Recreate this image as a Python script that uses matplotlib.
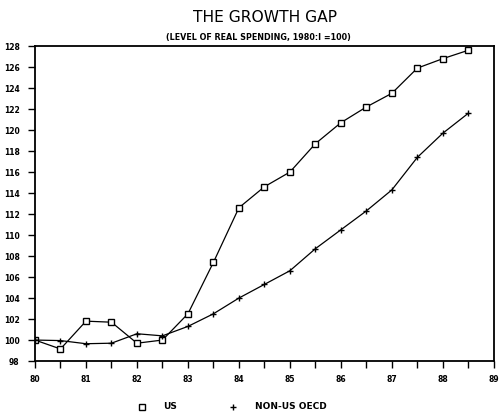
import matplotlib
matplotlib.use('Agg')
import matplotlib.pyplot as plt
import numpy as np

# half-year points, 1980:1 = 100
years = [80, 80.5, 81, 81.5, 82, 82.5, 83, 83.5, 84, 84.5,
         85, 85.5, 86, 86.5, 87, 87.5, 88, 88.5]
us = [100.0, 99.15, 101.8, 101.7, 99.7, 100.0, 102.5, 107.4, 112.6, 114.6,
      116.0, 118.7, 120.7, 122.2, 123.5, 125.9, 126.8, 127.6]
non_us = [100.0, 99.95, 99.65, 99.7, 100.6, 100.4, 101.3, 102.5, 104.0, 105.3,
          106.6, 108.7, 110.5, 112.3, 114.3, 117.4, 119.7, 121.6]
xlabels = ['80', '81', '82', '83', '84', '85', '86', '87', '88', '89']
ylabels = list(range(98, 129, 2))

fig = plt.figure(figsize=(5.02, 4.15), dpi=100)
ax = fig.add_axes([0.0697, 0.130, 0.914, 0.759])

ax.plot(years, us, color='black', lw=0.9, marker='s', ms=4.3,
        mfc='white', mec='black', mew=1.0)
ax.plot(years, non_us, color='black', lw=0.9, marker='+', ms=5, mew=1.0)

ax.set_xlim(80, 89)
ax.set_ylim(98, 128)
# ticks every half year, labels on whole years only
ax.set_xticks(np.arange(80, 89.01, 0.5))
ax.set_xticklabels([l for x in xlabels for l in (x, '')][:19])
ax.set_yticks(ylabels)
ax.set_yticklabels([str(v) for v in ylabels])
ax.tick_params(direction='out', length=5, width=1.0, labelsize=5.5)
ax.tick_params(axis='x', pad=5)
ax.tick_params(axis='y', pad=6)
for lab in ax.get_xticklabels() + ax.get_yticklabels():
    lab.set_fontweight('bold')
for s in ax.spines.values():
    s.set_linewidth(1.3)

fig.text(0.528, 0.957, 'THE GROWTH GAP', ha='center', va='center',
         fontsize=11.2, color='black')
fig.text(0.515, 0.910, '(LEVEL OF REAL SPENDING, 1980:I =100)',
         ha='center', va='center', fontsize=5.8, fontweight='bold')

# legend row under the chart
fig.lines.append(plt.Line2D([0.283], [0.020], transform=fig.transFigure,
                            marker='s', ms=4.3, mfc='white', mec='black',
                            mew=1.0, ls=''))
fig.text(0.325, 0.020, 'US', ha='left', va='center', fontsize=6.5,
         fontweight='bold')
fig.lines.append(plt.Line2D([0.465], [0.020], transform=fig.transFigure,
                            marker='+', ms=5, mec='black', mew=1.0, ls=''))
fig.text(0.507, 0.020, 'NON-US OECD', ha='left', va='center', fontsize=6.5,
         fontweight='bold')

fig.savefig('out.png', dpi=100)
